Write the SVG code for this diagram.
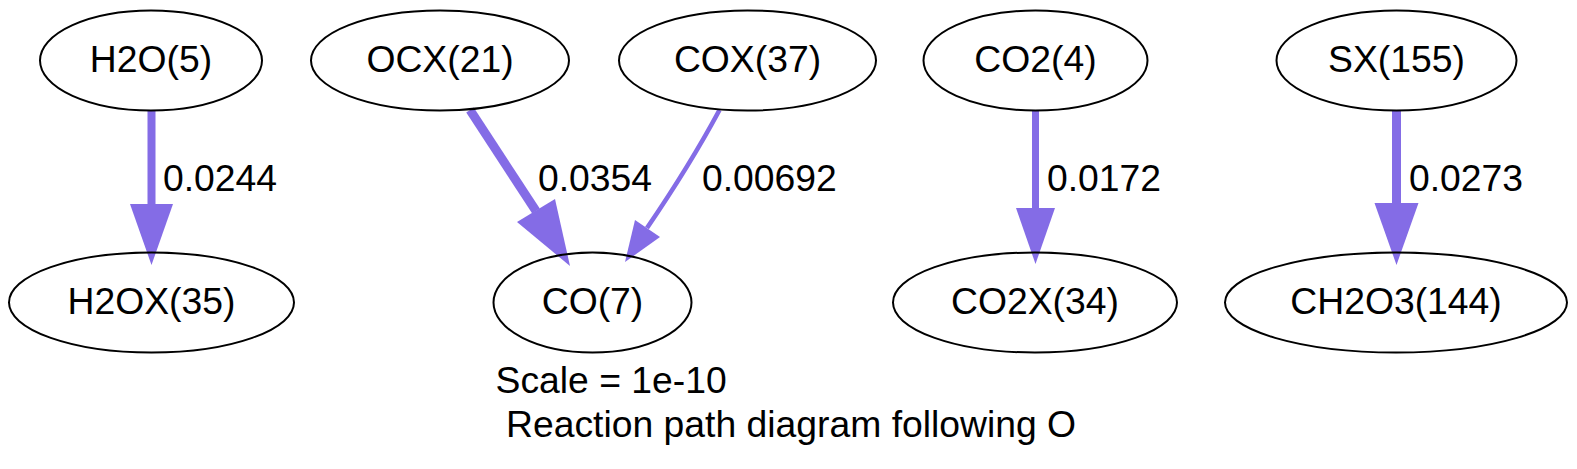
<svg xmlns="http://www.w3.org/2000/svg" width="1577" height="469" viewBox="0 0 1577 469">
<style>
.node ellipse{fill:none;stroke:#000;stroke-width:2}
text{font-family:"Liberation Sans",Arial,Helvetica,sans-serif;font-size:37.3px;fill:#000}
.node text{text-anchor:middle}
.edge path{fill:none;stroke:#846CE6}
.edge polygon{fill:#846CE6;stroke:none}
</style>
<rect width="1577" height="469" fill="#fff"/>
<g id="connectors">
<g class="edge" id="e_h2o"><path d="M151.5,110.5 L151.5,206" stroke-width="8"/><polygon points="130,204 173,204 151.5,265"/><text x="163" y="191">0.0244</text></g>
<g class="edge" id="e_ocx"><path d="M470,110 L536,211" stroke-width="9"/><polygon points="517,222 555,199 570,266"/><text x="538" y="191">0.0354</text></g>
<g class="edge" id="e_cox"><path d="M719.5,110 Q690,165 647,228" stroke-width="4.6"/><polygon points="635,220 660,237 625,262"/><text x="702" y="191">0.00692</text></g>
<g class="edge" id="e_co2"><path d="M1035.5,111 L1035.5,210" stroke-width="7"/><polygon points="1016,208 1055,208 1035.5,264"/><text x="1047" y="191">0.0172</text></g>
<g class="edge" id="e_sx"><path d="M1396.5,110.5 L1396.5,205" stroke-width="9"/><polygon points="1374.5,203 1418.5,203 1396.5,265"/><text x="1409" y="191">0.0273</text></g>
</g>
<g class="node" id="H2O5"><ellipse cx="151" cy="60.5" rx="111" ry="50"/><text x="151" y="72">H2O(5)</text></g>
<g class="node" id="OCX21"><ellipse cx="440" cy="60.5" rx="129" ry="50"/><text x="440" y="72">OCX(21)</text></g>
<g class="node" id="COX37"><ellipse cx="747.5" cy="60.5" rx="128.5" ry="50"/><text x="747.5" y="72">COX(37)</text></g>
<g class="node" id="CO24"><ellipse cx="1035.5" cy="60.5" rx="112" ry="50"/><text x="1035.5" y="72">CO2(4)</text></g>
<g class="node" id="SX155"><ellipse cx="1396.5" cy="60.5" rx="120" ry="50"/><text x="1396.5" y="72">SX(155)</text></g>
<g class="node" id="H2OX35"><ellipse cx="151.5" cy="302.5" rx="142.5" ry="50"/><text x="151.5" y="314">H2OX(35)</text></g>
<g class="node" id="CO7"><ellipse cx="592.5" cy="302.5" rx="99" ry="50"/><text x="592.5" y="314">CO(7)</text></g>
<g class="node" id="CO2X34"><ellipse cx="1035" cy="302.5" rx="142" ry="50"/><text x="1035" y="314">CO2X(34)</text></g>
<g class="node" id="CH2O3144"><ellipse cx="1396" cy="302.5" rx="171" ry="50"/><text x="1396" y="314">CH2O3(144)</text></g>
<g id="caption"><text x="495.5" y="393">Scale = 1e-10</text><text x="506" y="437">Reaction path diagram following O</text></g>
</svg>
